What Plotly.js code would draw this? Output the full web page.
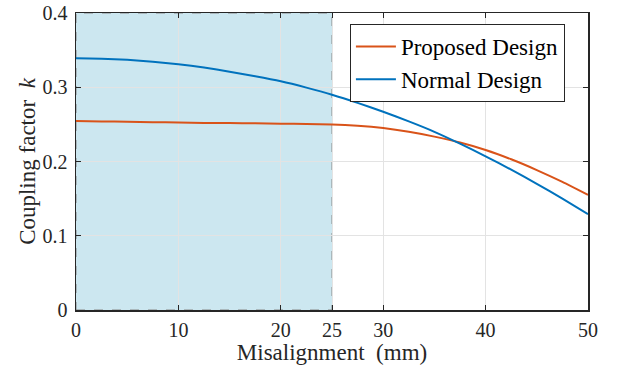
<!DOCTYPE html>
<html><head><meta charset="utf-8">
<script src="https://cdn.plot.ly/plotly-3.0.1.min.js"></script>
<style>body{margin:0;background:#fff}#c{width:620px;height:373px}</style>
</head><body><div id="c"></div>
<script>
const misalign = [0, 2.5, 5, 7.5, 10, 12.5, 15, 17.5, 20, 22.5, 25, 27.5, 30, 32.5, 35, 37.5, 40, 42.5, 45, 47.5, 50];
const proposed = [0.2545, 0.2540, 0.2535, 0.2530, 0.2525, 0.2520, 0.2517, 0.2514, 0.2510, 0.2505, 0.2500, 0.2482, 0.2450, 0.2400, 0.2335, 0.2255, 0.2155, 0.2030, 0.1885, 0.1725, 0.1550];
const normal = [0.3390, 0.3385, 0.3370, 0.3345, 0.3310, 0.3265, 0.3210, 0.3148, 0.3080, 0.2995, 0.2900, 0.2790, 0.2670, 0.2540, 0.2400, 0.2240, 0.2070, 0.1890, 0.1700, 0.1500, 0.1290];
const regionX = [0, 25];
const regionY = [0, 0.4];
const xTicks = [0, 10, 20, 25, 30, 40, 50];
const yTicks = [0, 0.1, 0.2, 0.3, 0.4];

const font = 'Liberation Serif, Times New Roman, serif';
const traces = [
  {x: misalign, y: proposed, type: 'scatter', mode: 'lines', name: 'Proposed Design', line: {color: '#D95319', width: 2, shape: 'spline', smoothing: 0.5}},
  {x: misalign, y: normal, type: 'scatter', mode: 'lines', name: 'Normal Design', line: {color: '#0072BD', width: 2, shape: 'spline', smoothing: 0.5}}
];
const axisCommon = {showline: true, linecolor: '#262626', linewidth: 1.5, mirror: 'ticks', ticks: 'inside', ticklen: 5, tickcolor: '#262626', gridcolor: '#e3e3e3', gridwidth: 1, zeroline: false, ticklabelstandoff: 3, tickfont: {family: font, size: 20, color: '#262626'}};
const layout = {
  width: 620, height: 373,
  margin: {l: 76, r: 32, t: 13, b: 63},
  paper_bgcolor: '#fff', plot_bgcolor: '#fff',
  font: {family: font, color: '#262626'},
  xaxis: Object.assign({}, axisCommon, {range: [0, 50], tickvals: xTicks, ticktext: xTicks.map(String), ticklabelstandoff: 1,
    title: {text: 'Misalignment  (mm)', font: {family: font, size: 23, color: '#262626'}, standoff: 4}}),
  yaxis: Object.assign({}, axisCommon, {range: [0, 0.4], tickvals: yTicks, ticktext: yTicks.map(v => v === 0 ? '0' : v.toFixed(1)),
    title: {text: 'Coupling factor  <i>k</i>', font: {family: font, size: 23, color: '#262626'}, standoff: 0}}),
  legend: {x: 0.535, y: 0.963, xanchor: 'left', yanchor: 'top', bgcolor: '#fff', bordercolor: '#262626', borderwidth: 1,
    font: {family: font, size: 23, color: '#000'}, tracegroupgap: 0, itemwidth: 40},
  shapes: [{type: 'rect', xref: 'x', yref: 'y', x0: regionX[0], x1: regionX[1], y0: regionY[0], y1: regionY[1],
    fillcolor: '#cce7f0', line: {color: '#888', width: 1, dash: 'dash'}, layer: 'below'}],
  showlegend: true
};
Plotly.newPlot('c', traces, layout, {displayModeBar: false, staticPlot: true});
</script></body></html>
